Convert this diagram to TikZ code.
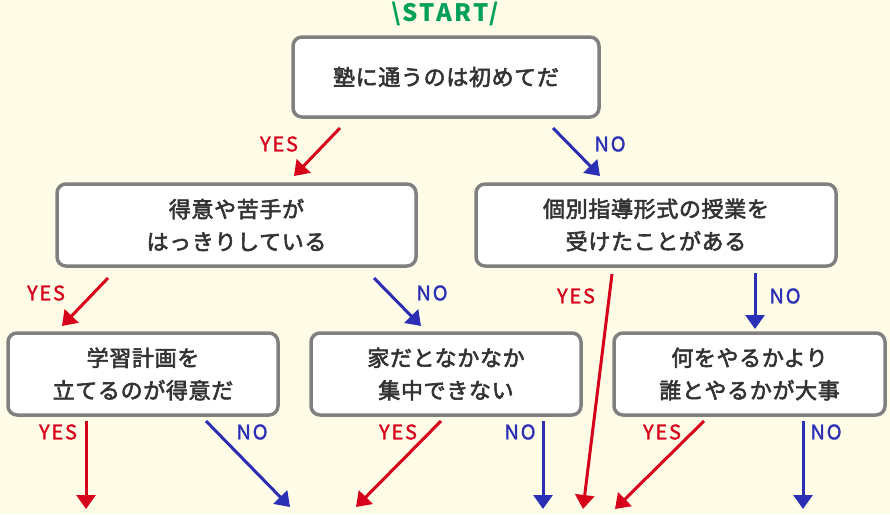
\documentclass[tikz,border=0pt]{standalone}
\usepackage{fontspec}
\setmainfont{Noto Sans CJK JP}
\usetikzlibrary{arrows.meta}
\definecolor{bg}{HTML}{FEFCE7}
\definecolor{boxline}{HTML}{808080}
\definecolor{txt}{HTML}{333333}
\definecolor{yescol}{HTML}{D7001B}
\definecolor{nocol}{HTML}{2B2FB5}
\definecolor{startcol}{HTML}{00A05A}
\newfontfamily\jpfont[LetterSpace=3, FakeBold=2.6]{Noto Sans CJK JP}
\newfontfamily\labfont[LetterSpace=9, FakeBold=1.5]{Noto Sans CJK JP}
\newfontfamily\startfont[LetterSpace=10]{Noto Sans CJK JP}
\tikzset{
  qbox/.style={draw=boxline, line width=3.5pt, fill=white, rounded corners=9pt,
    text=txt, align=center, inner sep=0pt,
    font=\jpfont\fontsize{22}{32.5}\selectfont},
  yesarr/.style={draw=yescol, line width=3pt, -{Triangle[width=19pt,length=14pt]}},
  noarr/.style={draw=nocol, line width=3pt, -{Triangle[width=19pt,length=14pt]}},
  yeslab/.style={text=yescol, font=\labfont\fontsize{20}{22}\selectfont, inner sep=0pt},
  nolab/.style={text=nocol, font=\labfont\fontsize{20}{22}\selectfont, inner sep=0pt},
}
\begin{document}
\begin{tikzpicture}[x=1pt,y=-1pt]
\fill[bg] (0,0) rectangle (890,514);
\useasboundingbox (0,0) rectangle (890,514);

\node[text=startcol, font=\startfont\bfseries\fontsize{24}{26}\selectfont, inner sep=0pt] (start) at (445,14) {\textbackslash START/};

\node[qbox, minimum width=306pt, minimum height=80pt] (top) at (446,77) {塾に通うのは初めてだ};
\node[qbox, minimum width=359pt, minimum height=82pt] (l1l) at (236.5,225) {得意や苦手が\\はっきりしている};
\node[qbox, minimum width=360pt, minimum height=82pt] (l1r) at (656,225) {個別指導形式の授業を\\受けたことがある};
\node[qbox, minimum width=270pt, minimum height=82pt] (l2a) at (143,374) {学習計画を\\立てるのが得意だ};
\node[qbox, minimum width=270pt, minimum height=82pt] (l2b) at (446,374) {家だとなかなか\\集中できない};
\node[qbox, minimum width=271pt, minimum height=82pt] (l2c) at (749.5,374) {何をやるかより\\誰とやるかが大事};

% arrow coordinates
\coordinate (a1s) at (340,128); \coordinate (a1e) at (294,176);
\coordinate (a2s) at (553,128); \coordinate (a2e) at (600,176);
\coordinate (a3s) at (108,278); \coordinate (a3e) at (62,326);
\coordinate (a4s) at (374,278); \coordinate (a4e) at (421,326);
\coordinate (a5s) at (612,274); \coordinate (a5e) at (583,509);
\coordinate (a6s) at (755,273); \coordinate (a6e) at (755,329);
\coordinate (a7s) at (86,421); \coordinate (a7e) at (86,509);
\coordinate (a8s) at (206,421); \coordinate (a8e) at (290,507);
\coordinate (a9s) at (441,421); \coordinate (a9e) at (356,507);
\coordinate (a10s) at (543,421); \coordinate (a10e) at (543,509);
\coordinate (a11s) at (704,421); \coordinate (a11e) at (615,509);
\coordinate (a12s) at (803,421); \coordinate (a12e) at (803,509);

\draw[yesarr] (a1s) -- (a1e);
\draw[noarr] (a2s) -- (a2e);
\draw[yesarr] (a3s) -- (a3e);
\draw[noarr] (a4s) -- (a4e);
\draw[yesarr] (a5s) -- (a5e);
\draw[noarr] (a6s) -- (a6e);
\draw[yesarr] (a7s) -- (a7e);
\draw[noarr] (a8s) -- (a8e);
\draw[yesarr] (a9s) -- (a9e);
\draw[noarr] (a10s) -- (a10e);
\draw[yesarr] (a11s) -- (a11e);
\draw[noarr] (a12s) -- (a12e);

\node[yeslab] (y1) at (279,144) {YES};
\node[nolab] (n1) at (610,144) {NO};
\node[yeslab] (y2) at (46,293) {YES};
\node[nolab] (n2) at (432,293) {NO};
\node[yeslab] (y3) at (576,296) {YES};
\node[nolab] (n3) at (785,296) {NO};
\node[yeslab] (y4) at (58,432) {YES};
\node[nolab] (n4) at (252,432) {NO};
\node[yeslab] (y5) at (398,432) {YES};
\node[nolab] (n5) at (520,432) {NO};
\node[yeslab] (y6) at (662,432) {YES};
\node[nolab] (n6) at (826,432) {NO};
\end{tikzpicture}
\end{document}
